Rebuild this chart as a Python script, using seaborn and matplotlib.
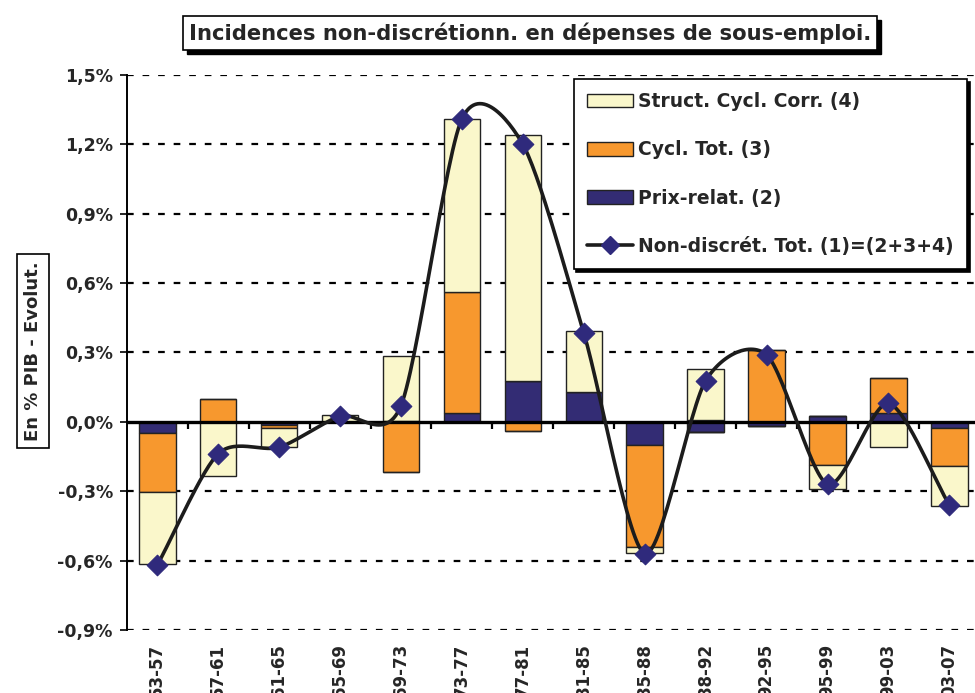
import numpy as np
import pandas as pd
import seaborn as sns
import matplotlib.pyplot as plt
from matplotlib.patches import Patch, Rectangle
from matplotlib.lines import Line2D

# ---------------- data (en % du PIB) ----------------
periods = ['53-57', '57-61', '61-65', '65-69', '69-73', '73-77', '77-81',
           '81-85', '85-88', '88-92', '92-95', '95-99', '99-03', '03-07']
prix_relat = [-0.048, 0.0, -0.015, 0.0, 0.005, 0.04, 0.175,
              0.13, -0.10, -0.045, -0.02, 0.025, 0.04, -0.027]
cycl_tot = [-0.255, 0.10, -0.01, 0.0, -0.215, 0.52, -0.04,
            0.0, -0.44, 0.01, 0.31, -0.185, 0.15, -0.165]
struct_cycl = [-0.31, -0.235, -0.085, 0.028, 0.28, 0.75, 1.065,
               0.265, -0.025, 0.22, 0.0, -0.105, -0.11, -0.17]
non_discret = [-0.62, -0.138, -0.11, 0.025, 0.07, 1.31, 1.20,
               0.385, -0.57, 0.178, 0.29, -0.27, 0.08, -0.36]

df = pd.DataFrame({'periode': periods, 'prix': prix_relat, 'cycl': cycl_tot,
                   'struct': struct_cycl, 'total': non_discret})

c_struct = '#FAF7CB'
c_cycl = '#F7982E'
c_prix = '#332C74'
c_mark = '#2F2A7C'

sns.set_style('white')
plt.rcParams['font.family'] = ['DejaVu Sans']
plt.rcParams['font.weight'] = 'bold'

fig = plt.figure(figsize=(9.75, 6.93), dpi=100)
ax = fig.add_axes([0.130, 0.0909, 0.870, 0.8009])

x = np.arange(len(df))
pos_bottom = np.zeros(len(df))
neg_bottom = np.zeros(len(df))
for col, color in [('prix', c_prix), ('cycl', c_cycl), ('struct', c_struct)]:
    vals = df[col].values
    pos = np.where(vals > 0, vals, 0)
    neg = np.where(vals < 0, vals, 0)
    ax.bar(x, pos, bottom=pos_bottom, width=0.6, color=color,
           edgecolor='#222222', linewidth=1.0, zorder=2)
    ax.bar(x, neg, bottom=neg_bottom, width=0.6, color=color,
           edgecolor='#222222', linewidth=1.0, zorder=2)
    pos_bottom += pos
    neg_bottom += neg


# courbe lissée (Catmull-Rom, tension réduite comme le lissage Excel)
def catmull(xs, ys, k=0.4, n=30):
    px = np.concatenate([[2 * xs[0] - xs[1]], xs, [2 * xs[-1] - xs[-2]]])
    py = np.concatenate([[2 * ys[0] - ys[1]], ys, [2 * ys[-1] - ys[-2]]])
    t = np.linspace(0, 1, n)
    h00 = 2 * t ** 3 - 3 * t ** 2 + 1
    h10 = t ** 3 - 2 * t ** 2 + t
    h01 = -2 * t ** 3 + 3 * t ** 2
    h11 = t ** 3 - t ** 2
    outx, outy = [], []
    for i in range(1, len(px) - 2):
        for p, out in ((px, outx), (py, outy)):
            m1 = k * (p[i + 1] - p[i - 1])
            m2 = k * (p[i + 2] - p[i])
            out.extend(h00 * p[i] + h10 * m1 + h01 * p[i + 1] + h11 * m2)
    return np.array(outx), np.array(outy)


sx, sy = catmull(x.astype(float), df['total'].values)
ax.plot(sx, sy, color='#1c1c1c', lw=2.6, zorder=4, solid_capstyle='round')
sns.scatterplot(x=x, y=df['total'], marker='D', s=110, color=c_mark,
                edgecolor=c_mark, zorder=5, ax=ax, legend=False)

# axes
yt = np.array([-0.9, -0.6, -0.3, 0.0, 0.3, 0.6, 0.9, 1.2, 1.5])
ax.set_xlim(-0.5, 13.42)
ax.set_ylim(-0.9, 1.5)
ax.set_yticks(yt)
ax.set_yticklabels([('%.1f%%' % v).replace('.', ',') for v in yt],
                   fontsize=12.5, fontweight='bold')
for v in yt:
    if abs(v) > 1e-9:
        ax.axhline(v, color='black', lw=1.6, ls=(0, (3, 4)), zorder=1)
ax.axhline(0, color='black', lw=2.4, zorder=3)

ax.set_xticks(x)
ax.set_xticklabels(periods, rotation=90, fontsize=12, fontweight='bold', va='top')
ax.tick_params(axis='x', length=0, pad=10)
ax.tick_params(axis='y', direction='out', length=5, width=1.2, color='black', pad=5,
               left=True)
for s in ['top', 'right', 'bottom']:
    ax.spines[s].set_visible(False)
ax.spines['left'].set_color('black')
ax.spines['left'].set_linewidth(1.4)

sec = ax.secondary_xaxis(0.375)
sec.set_xticks(x[:-1] + 0.5)
sec.set_xticklabels([])
sec.tick_params(direction='out', length=5, width=1.6, color='black')
sec.spines['bottom'].set_visible(False)

ax.set_ylabel('En % PIB - Evolut.', fontsize=13, fontweight='bold',
              bbox=dict(boxstyle='square,pad=0.4', fc='white', ec='black', lw=1.2))
ax.yaxis.set_label_coords(-0.100, 0.503)

# titre encadré avec ombre noire
title = 'Incidences non-discrétionn. en dépenses de sous-emploi.'
ttl = fig.text(0.5436, 0.952, title, ha='center', va='center', fontsize=15.2,
               fontweight='bold', zorder=3,
               bbox=dict(boxstyle='square,pad=0.3', fc='white', ec='black', lw=1.2))
fig.canvas.draw()
bb = ttl.get_bbox_patch().get_window_extent().transformed(fig.transFigure.inverted())
dx, dy = 4 / 975, 4 / 693
fig.patches.append(Rectangle((bb.x0 + dx, bb.y0 - dy), bb.width, bb.height,
                             transform=fig.transFigure, facecolor='black',
                             edgecolor='black', zorder=1))

handles = [Patch(facecolor=c_struct, edgecolor='#222222', label='Struct. Cycl. Corr. (4)'),
           Patch(facecolor=c_cycl, edgecolor='#222222', label='Cycl. Tot. (3)'),
           Patch(facecolor=c_prix, edgecolor='#222222', label='Prix-relat. (2)'),
           Line2D([0], [0], color='#1c1c1c', lw=2.6, marker='D', markersize=9,
                  markerfacecolor=c_mark, markeredgecolor=c_mark,
                  label='Non-discrét. Tot. (1)=(2+3+4)')]
leg = ax.legend(handles=handles, loc='upper right', bbox_to_anchor=(967 / 975, 1 - 79 / 693),
                bbox_transform=fig.transFigure, borderaxespad=0,
                frameon=True, fancybox=False, shadow={'color': 'black', 'alpha': 1.0},
                edgecolor='black', labelspacing=1.56, borderpad=0.7,
                handlelength=2.45, handleheight=0.75, handletextpad=0.3,
                prop={'weight': 'bold', 'size': 13.5})
leg.get_frame().set_linewidth(1.2)
leg.set_zorder(10)

fig.savefig('out.png', dpi=100)
